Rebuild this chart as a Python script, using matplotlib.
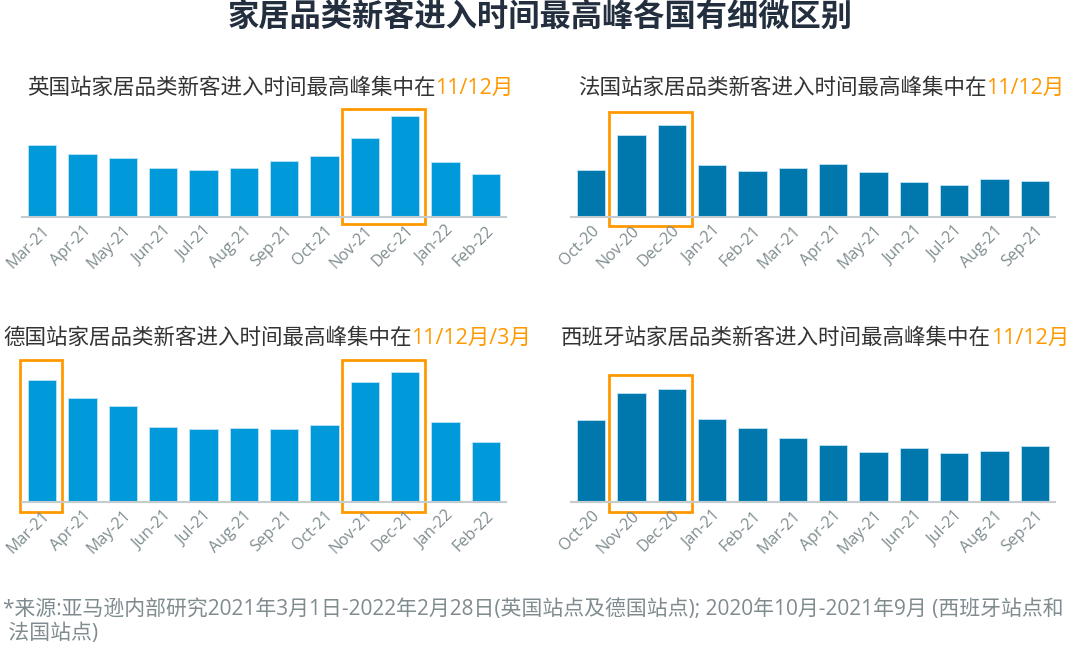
import matplotlib

matplotlib.use("Agg")
import matplotlib.pyplot as plt
from matplotlib.patches import Rectangle

FONTS = ["Open Sans", "Noto Sans CJK SC", "DejaVu Sans"]
plt.rcParams["font.family"] = FONTS

# Months per market (x-axis)
MONTHS_UK_DE = ["Mar-21", "Apr-21", "May-21", "Jun-21", "Jul-21", "Aug-21",
                "Sep-21", "Oct-21", "Nov-21", "Dec-21", "Jan-22", "Feb-22"]
MONTHS_FR_ES = ["Oct-20", "Nov-20", "Dec-20", "Jan-21", "Feb-21", "Mar-21",
                "Apr-21", "May-21", "Jun-21", "Jul-21", "Aug-21", "Sep-21"]

# Relative new-customer volume (arbitrary units)
uk = [72, 63, 59, 49, 47, 49, 56, 61, 79, 101, 55, 43]
fr = [47, 82, 92, 52, 46, 49, 53, 45, 35, 32, 38, 36]
de = [122, 104, 96, 75, 73, 74, 73, 77, 120, 130, 80, 60]
es = [82, 109, 113, 83, 74, 64, 57, 50, 54, 49, 51, 56]

# Highlighted peak months (index ranges)
hl_uk = [(8, 9)]
hl_fr = [(1, 2)]
hl_de = [(0, 0), (8, 9)]
hl_es = [(1, 2)]

TITLE = "家居品类新客进入时间最高峰各国有细微区别"
SUB_UK = ("英国站家居品类新客进入时间最高峰集中在", "11/12月")
SUB_FR = ("法国站家居品类新客进入时间最高峰集中在", "11/12月")
SUB_DE = ("德国站家居品类新客进入时间最高峰集中在", "11/12月/3月")
SUB_ES = ("西班牙站家居品类新客进入时间最高峰集中在", "11/12月")
NOTE_1 = ("*来源:亚马逊内部研究2021年3月1日-2022年2月28日(英国站点及德国站点); "
          "2020年10月-2021年9月 (西班牙站点和")
NOTE_2 = " 法国站点)"

ORANGE = "#FF9900"
LIGHT_BLUE = "#0099D9"
DARK_BLUE = "#0077AD"
W, H = 1080, 666

fig = plt.figure(figsize=(W / 100, H / 100), dpi=100)


def panel(left, right, base, top, labels, values, color, boxes, box_top, box_bot):
    ax = fig.add_axes([left / W, 1 - base / H, (right - left) / W, (base - top) / H])
    x = range(len(values))
    ax.bar(x, values, width=0.71, color=color, edgecolor="#BFE3F2", linewidth=0.6)
    ax.set_xlim(-0.5, len(values) - 0.5)
    ax.set_ylim(0, base - top)
    ax.set_xticks(list(x))
    ax.set_xticklabels(labels, rotation=45, ha="right", rotation_mode="anchor",
                       color="#7F8C8F", fontsize=11.5)
    ax.tick_params(axis="x", length=0, pad=4)
    ax.set_yticks([])
    for s in ("top", "right", "left"):
        ax.spines[s].set_visible(False)
    ax.spines["bottom"].set_color("#C5CCCF")
    ax.spines["bottom"].set_linewidth(1.5)
    for i, j in boxes:
        ax.add_patch(Rectangle((i - 0.56, box_bot), j - i + 1.06, box_top - box_bot,
                               fill=False, edgecolor=ORANGE, linewidth=2, clip_on=False))
    return ax


panel(22, 506, 217, 105, MONTHS_UK_DE, uk, LIGHT_BLUE, hl_uk, 108, -7)
panel(571, 1055, 217, 105, MONTHS_FR_ES, fr, DARK_BLUE, hl_fr, 105, -9)
panel(22, 506, 502, 362, MONTHS_UK_DE, de, LIGHT_BLUE, hl_de, 142, -10)
panel(571, 1055, 502, 362, MONTHS_FR_ES, es, DARK_BLUE, hl_es, 127, -10)


def subtitle(x, y, parts):
    t = fig.text(x / W, 1 - y / H, parts[0], fontsize=15.5, color="#333333",
                 va="center")
    fig.canvas.draw()
    bb = t.get_window_extent()
    fig.text(bb.x1 / W, 1 - y / H, parts[1], fontsize=15.5, color=ORANGE,
             va="center")


subtitle(27, 88, SUB_UK)
subtitle(578, 88, SUB_FR)
subtitle(3, 338, SUB_DE)
subtitle(561, 338, SUB_ES)

fig.text(0.5, 1 - 18 / H, TITLE, ha="center", va="center", fontsize=22.5,
         fontweight="bold", color="#232F3E")
fig.text(3 / W, 1 - 610 / H, NOTE_1, ha="left", va="center", fontsize=15,
         color="#7F8B8F")
fig.text(3 / W, 1 - 634 / H, NOTE_2, ha="left", va="center", fontsize=15,
         color="#7F8B8F")

fig.savefig("out.png", dpi=100)
